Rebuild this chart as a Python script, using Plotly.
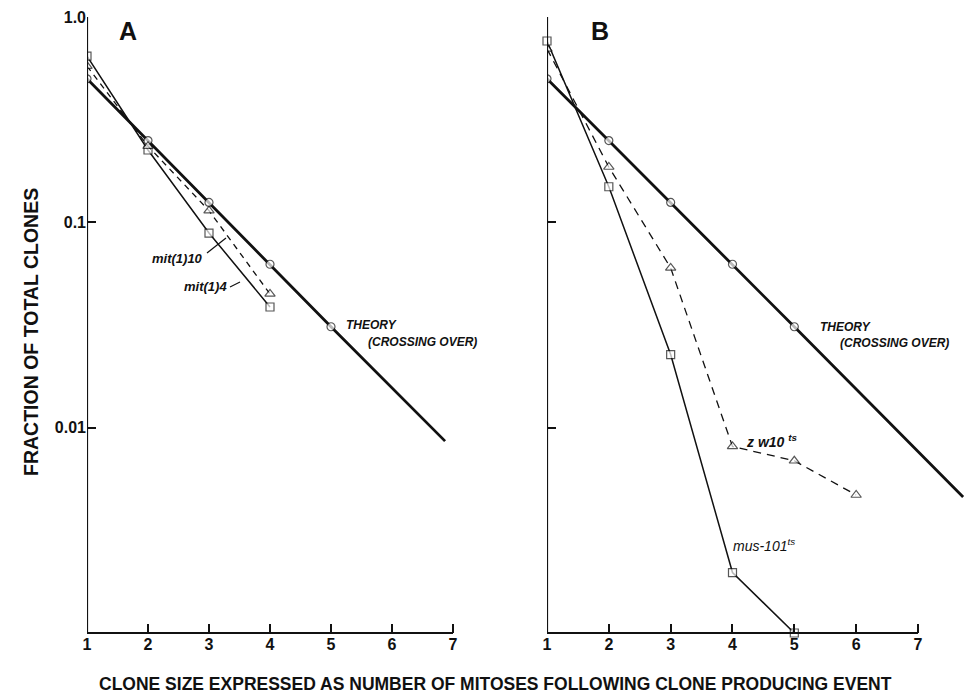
import plotly.graph_objects as go

# ---- data ----
theory_x_a = [1, 2, 3, 4, 5, 6.87]
theory_a = [0.50, 0.25, 0.125, 0.0625, 0.031, 0.0086]
theory_x_b = [1, 2, 3, 4, 5, 7.73]
theory_b = [0.50, 0.25, 0.125, 0.0625, 0.031, 0.0046]

mit10_x = [1, 2, 3, 4]
mit10 = [0.645, 0.225, 0.0887, 0.0387]
mit4_x = [1, 2, 3, 4]
mit4 = [0.577, 0.235, 0.114, 0.0448]

mus_x = [1, 2, 3, 4, 5]
mus101 = [0.764, 0.149, 0.0227, 0.00197, 0.001]
zw_x = [1, 2, 3, 4, 5, 6]
zw10 = [0.70, 0.186, 0.060, 0.0081, 0.0069, 0.0047]

x_ticks = [1, 2, 3, 4, 5, 6, 7]
y_ticks = [1, 0.1, 0.01]
y_ticktext = ["1.0", "0.1", "0.01"]

# ---- style ----
W, H = 966, 699
FONT = "Liberation Sans, Arial, sans-serif"
BLACK = "#111111"


def px(x):
    return x / W


def py(y):
    return 1 - y / H


fig = go.Figure()


def marker(symbol, n, size=8, hide_last=False):
    sizes = [size] * n
    if hide_last:
        sizes[-1] = 0
    return dict(symbol=symbol, size=sizes, color="white",
                line=dict(color=BLACK, width=1.2))


# Panel A
fig.add_trace(go.Scatter(x=theory_x_a, y=theory_a, mode="lines+markers",
                         line=dict(color=BLACK, width=2.8),
                         marker=marker("circle", len(theory_a), 8, True),
                         xaxis="x", yaxis="y", showlegend=False))
fig.add_trace(go.Scatter(x=mit10_x, y=mit10, mode="lines+markers",
                         line=dict(color=BLACK, width=1.5),
                         marker=marker("square", len(mit10), 8),
                         xaxis="x", yaxis="y", showlegend=False))
fig.add_trace(go.Scatter(x=mit4_x, y=mit4, mode="lines+markers",
                         line=dict(color=BLACK, width=1.3, dash="6px,5px"),
                         marker=marker("triangle-up", len(mit4), 9),
                         xaxis="x", yaxis="y", showlegend=False))

# Panel B
fig.add_trace(go.Scatter(x=theory_x_b, y=theory_b, mode="lines+markers",
                         line=dict(color=BLACK, width=2.8),
                         marker=marker("circle", len(theory_b), 8, True),
                         xaxis="x2", yaxis="y2", showlegend=False))
fig.add_trace(go.Scatter(x=mus_x, y=mus101, mode="lines+markers",
                         line=dict(color=BLACK, width=1.5),
                         marker=marker("square", len(mus101), 8),
                         xaxis="x2", yaxis="y2", showlegend=False, cliponaxis=False))
fig.add_trace(go.Scatter(x=zw_x, y=zw10, mode="lines+markers",
                         line=dict(color=BLACK, width=1.3, dash="8px,6px"),
                         marker=marker("triangle-up", len(zw10), 9),
                         xaxis="x2", yaxis="y2", showlegend=False))

ydom = [py(633), py(17)]
tickfont = dict(family=FONT, size=16, color=BLACK, weight="bold")

xcommon = dict(range=[1, 7.75], tickvals=x_ticks, ticks="inside", ticklen=9,
               tickwidth=2, tickcolor=BLACK, showline=False, showgrid=False,
               zeroline=False, tickfont=tickfont, automargin=False)
ycommon = dict(type="log", range=[-3, 0], tickvals=y_ticks, ticks="inside",
               ticklen=9, tickwidth=2, tickcolor=BLACK, showline=False,
               showgrid=False, zeroline=False, tickfont=tickfont, domain=ydom,
               automargin=False)

fig.update_layout(
    width=W, height=H, margin=dict(l=0, r=0, t=0, b=0, autoexpand=False),
    paper_bgcolor="white", plot_bgcolor="white",
    xaxis=dict(domain=[px(87), px(87 + 6.75 * 61)], anchor="y", **xcommon),
    yaxis=dict(anchor="x", ticktext=y_ticktext, **ycommon),
    xaxis2=dict(domain=[px(547), px(547 + 6.75 * 61.83)], anchor="y2", **xcommon),
    yaxis2=dict(anchor="x2", showticklabels=False, **ycommon),
)

# axis lines (ending at x = 7)
shapes = []
for xr in ["x", "x2"]:
    shapes.append(dict(type="line", xref=xr, yref="paper", x0=1, x1=1,
                       y0=ydom[0], y1=ydom[1], line=dict(color=BLACK, width=2.2)))
    shapes.append(dict(type="line", xref=xr, yref="paper", x0=1, x1=7,
                       y0=ydom[0], y1=ydom[0], line=dict(color=BLACK, width=2.2)))

ann = []


def text(x, y, s, size=13, italic=True, bold=False, xanchor="center"):
    ann.append(dict(xref="paper", yref="paper", x=px(x), y=py(y), text=s,
                    showarrow=False, xanchor=xanchor, yanchor="middle",
                    font=dict(family=FONT, size=size, color=BLACK,
                              style="italic" if italic else "normal",
                              weight="bold" if bold else "normal")))


text(128, 31, "A", size=25, italic=False, bold=True)
text(600, 31, "B", size=25, italic=False, bold=True)
text(150, 258, "mit(1)10", size=13, bold=True, xanchor="left")
text(182, 287, "mit(1)4", size=13, bold=True, xanchor="left")
text(344, 325, "THEORY", size=12, bold=True, xanchor="left")
text(366, 342, "(CROSSING OVER)", size=12, bold=True, xanchor="left")
text(818, 327, "THEORY", size=12, bold=True, xanchor="left")
text(838, 343, "(CROSSING OVER)", size=12, bold=True, xanchor="left")
text(744, 441, "z w10 <sup>ts</sup>", size=14, bold=True, xanchor="left")
text(731, 545, "mus-101<sup>ts</sup>", size=14, xanchor="left")

text(495, 684, "CLONE SIZE EXPRESSED AS NUMBER OF MITOSES FOLLOWING CLONE PRODUCING EVENT",
     size=17.5, italic=False, bold=True)
ann.append(dict(xref="paper", yref="paper", x=px(18), y=py(332),
                text="FRACTION OF TOTAL CLONES", showarrow=False, textangle=-90,
                font=dict(family=FONT, size=19.5, color=BLACK, weight="bold")))

# leader lines for mit labels
for (x0, y0, x1, y1) in [(207, 253, 226, 238), (230, 287, 240, 282)]:
    shapes.append(dict(type="line", xref="paper", yref="paper",
                       x0=px(x0), y0=py(y0), x1=px(x1), y1=py(y1),
                       line=dict(color=BLACK, width=1.2)))

fig.update_layout(annotations=ann, shapes=shapes)
fig.write_html("out.html",
               config={"displayModeBar": False},
               post_script="document.body.style.margin='0';"
                           "document.body.style.overflow='hidden';")
